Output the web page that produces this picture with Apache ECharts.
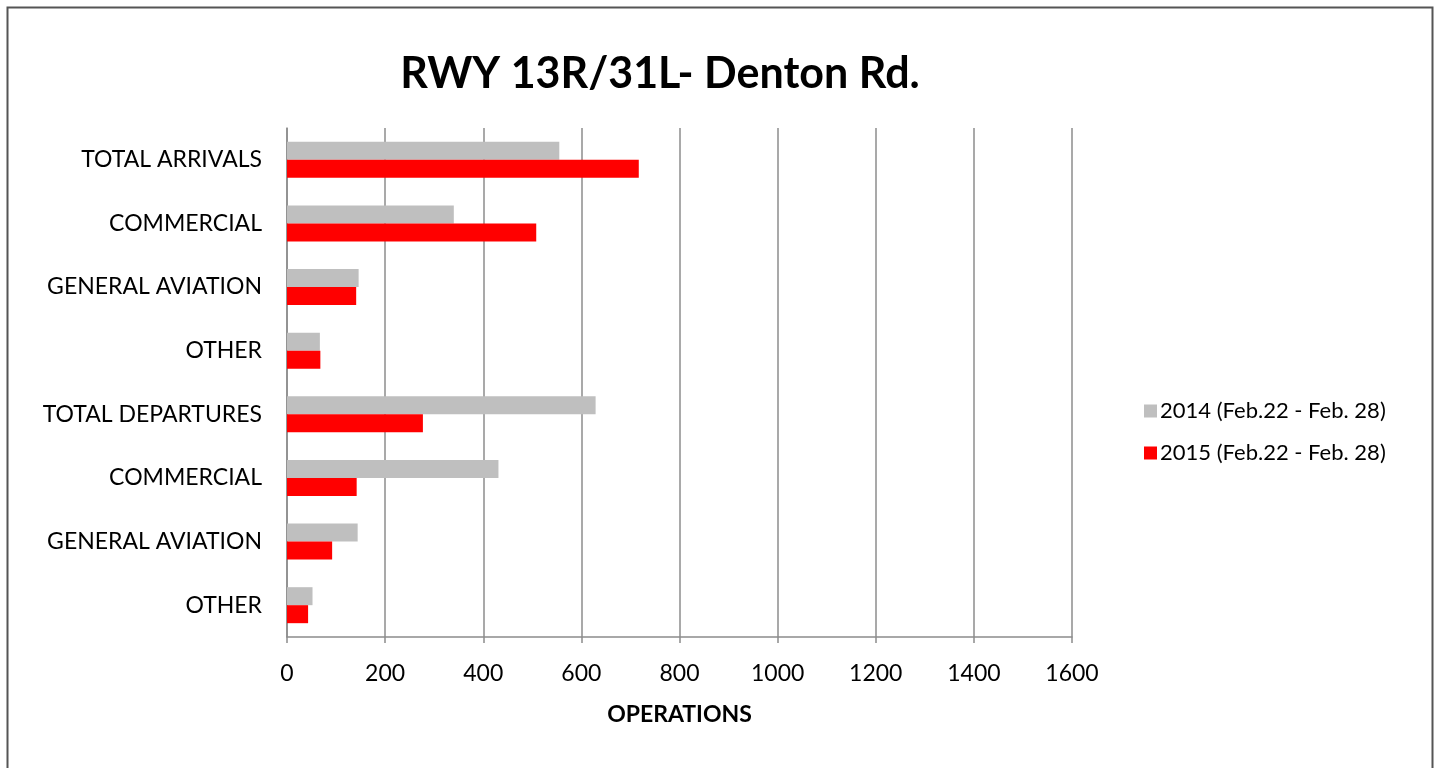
<!DOCTYPE html>
<html>
<head>
<meta charset="utf-8">
<script src="https://cdn.jsdelivr.net/npm/echarts@6/dist/echarts.min.js"></script>
<style>
html,body{margin:0;padding:0;background:#fff;}
#chart{width:1437px;height:768px;}
</style>
</head>
<body>
<div id="chart"></div>
<script>
const categories = ["TOTAL ARRIVALS","COMMERCIAL","GENERAL AVIATION","OTHER","TOTAL DEPARTURES","COMMERCIAL","GENERAL AVIATION","OTHER"];
const seriesNames = ["2014 (Feb.22 - Feb. 28)","2015 (Feb.22 - Feb. 28)"];
const values2014 = [555, 340, 146, 67, 629, 431, 144, 52];
const values2015 = [717, 508, 141, 68, 277, 142, 92, 43];
const xTicks = [0, 200, 400, 600, 800, 1000, 1200, 1400, 1600];

const chart = echarts.init(document.getElementById('chart'), null, {renderer:'canvas'});
const FONT = 'Lato, "Open Sans", sans-serif';
const catData = categories.map((c, i) => c + '\u200b'.repeat(i));
chart.setOption({
  animation: false,
  backgroundColor: '#fff',
  graphic: [{
    type: 'rect', left: 5, top: 5,
    shape: {width: 1425, height: 800},
    style: {fill: 'none', stroke: '#555', lineWidth: 2},
    silent: true
  }],
  title: {
    text: 'RWY 13R/31L- Denton Rd.',
    left: 655, top: 48, textAlign: 'center',
    textStyle: {fontFamily: FONT, fontWeight: 'bold', fontSize: 43, color: '#000'}
  },
  legend: {
    orient: 'vertical',
    left: 1139, top: 395,
    itemWidth: 13, itemHeight: 13, itemGap: 20,
    icon: 'rect',
    textStyle: {fontFamily: FONT, fontSize: 22, color: '#000', padding: [0,0,0,-2]},
    data: seriesNames
  },
  grid: {left: 287, right: 365, top: 128, bottom: 131, containLabel: false},
  xAxis: {
    type: 'value', min: 0, max: 1600, interval: 200,
    name: 'OPERATIONS', nameLocation: 'middle', nameGap: 66,
    nameTextStyle: {fontFamily: FONT, fontWeight: 'bold', fontSize: 23, color: '#000'},
    axisLine: {show: true, lineStyle: {color: '#8c8c8c', width: 1.5}},
    axisTick: {show: true, length: 6, lineStyle: {color: '#8c8c8c', width: 1.5}},
    axisLabel: {fontFamily: FONT, fontSize: 23, color: '#000', margin: 25,
      formatter: v => xTicks.includes(v) ? String(v) : ''},
    splitLine: {show: true, lineStyle: {color: '#8c8c8c', width: 1.5}}
  },
  yAxis: {
    type: 'category', inverse: true,
    data: catData,
    axisLine: {show: true, lineStyle: {color: '#8c8c8c', width: 1.5}},
    axisTick: {show: false},
    axisLabel: {fontFamily: FONT, fontSize: 23, color: '#000', margin: 25,
      formatter: v => v.replace(/\u200b/g, '')},
    splitLine: {show: false}
  },
  series: [
    {name: seriesNames[0], type: 'bar', data: values2014, barWidth: 18, barGap: '0%',
      itemStyle: {color: '#bfbfbf'}},
    {name: seriesNames[1], type: 'bar', data: values2015, barWidth: 18, barGap: '0%',
      itemStyle: {color: '#ff0000'}}
  ]
});
</script>
</body>
</html>
